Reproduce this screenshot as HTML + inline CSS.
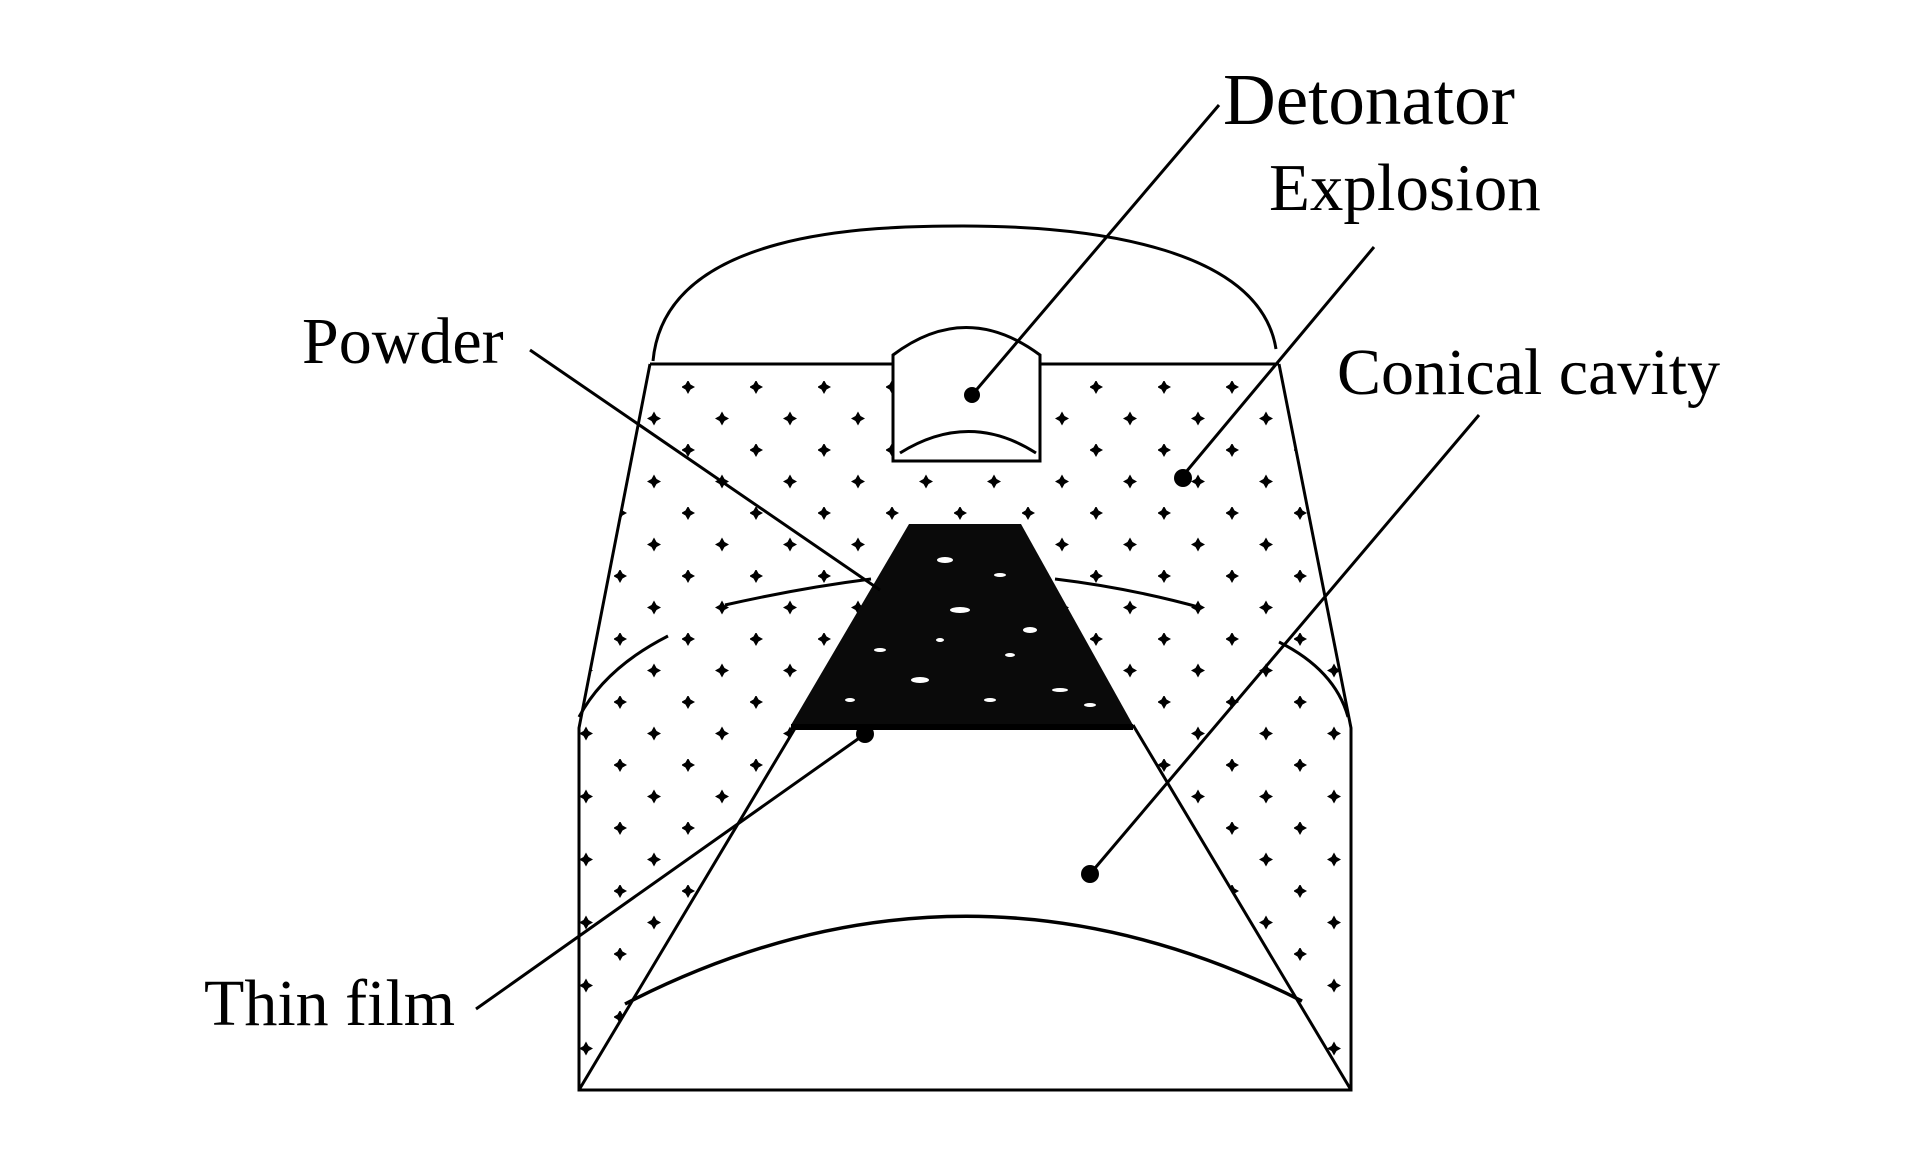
<!DOCTYPE html>
<html><head><meta charset="utf-8"><style>
html,body{margin:0;padding:0;background:#fff;}
svg{display:block;}
text{font-family:"Liberation Serif",serif;fill:#000;}
</style></head><body>
<svg width="1923" height="1169" viewBox="0 0 1923 1169" xmlns="http://www.w3.org/2000/svg">
<defs>
<pattern id="dots" patternUnits="userSpaceOnUse" x="682" y="381" width="68" height="63">
<path d="M6 -1 L8.5 3.5 L13 6 L8.5 8.5 L6 13 L3.5 8.5 L-1 6 L3.5 3.5Z" fill="#000"/>
<path d="M40 30.5 L42.5 35 L47 37.5 L42.5 40 L40 44.5 L37.5 40 L33 37.5 L37.5 35Z" fill="#000"/>
</pattern>
</defs>
<polygon points="650,364 1279,364 1351,728 1351,1090 579,1090 579,728" fill="url(#dots)"/>
<polygon points="797,725 1133,725 1351,1090 579,1090" fill="#fff"/>
<path d="M893,364 L893,355 Q966,300 1040,355 L1040,461 L893,461Z" fill="#fff"/>
<polygon points="909,524 1021,524 1133,725 791,725" fill="#0a0a0a"/>
<g fill="#fff">
<ellipse cx="945" cy="560" rx="8" ry="3"/><ellipse cx="1000" cy="575" rx="6" ry="2"/>
<ellipse cx="960" cy="610" rx="10" ry="3"/><ellipse cx="1030" cy="630" rx="7" ry="3"/>
<ellipse cx="880" cy="650" rx="6" ry="2"/><ellipse cx="920" cy="680" rx="9" ry="3"/>
<ellipse cx="1060" cy="690" rx="8" ry="2"/><ellipse cx="990" cy="700" rx="6" ry="2"/>
<ellipse cx="850" cy="700" rx="5" ry="2"/><ellipse cx="1090" cy="705" rx="6" ry="2"/>
<ellipse cx="1010" cy="655" rx="5" ry="2"/><ellipse cx="940" cy="640" rx="4" ry="2"/>
</g>
<g stroke="#000" stroke-width="3" fill="none">
<path d="M653,361 C665,230 870,226 963,226 C1100,226 1260,250 1276,349"/>
<line x1="650" y1="364" x2="893" y2="364"/>
<line x1="1040" y1="364" x2="1279" y2="364"/>
<polyline points="650,364 579,728 579,1090 1351,1090 1351,728 1279,364"/>
<path d="M893,461 L893,355 Q966,300 1040,355 L1040,461 Z"/>
<path d="M900,453 Q969,410 1036,453"/>
<line x1="797" y1="725" x2="579" y2="1090"/>
<line x1="1133" y1="725" x2="1351" y2="1090"/>
<line x1="791" y1="727" x2="1133" y2="727" stroke-width="6"/>
<path d="M625,1004 Q963,830 1302,1001" stroke-width="3.5"/>
<path d="M725,605 Q800,588 871,579"/>
<path d="M1055,579 Q1130,588 1202,608"/>
<path d="M668,636 Q605,668 579,717"/>
<path d="M1279,642 Q1335,670 1348,717"/>
<line x1="972" y1="395" x2="1219" y2="105"/>
<line x1="1181" y1="478" x2="1374" y2="247"/>
<line x1="1090" y1="874" x2="1479" y2="415"/>
<line x1="530" y1="350" x2="880" y2="590"/>
<line x1="865" y1="734" x2="476" y2="1009"/>
</g>
<g fill="#000">
<circle cx="972" cy="395" r="8"/>
<circle cx="1183" cy="478" r="9"/>
<circle cx="1090" cy="874" r="9"/>
<circle cx="865" cy="734" r="9"/>
</g>
<text x="1223" y="124" font-size="73">Detonator</text>
<text x="1269" y="210" font-size="67">Explosion</text>
<text x="302" y="363" font-size="66">Powder</text>
<text x="1337" y="394" font-size="66">Conical cavity</text>
<text x="204" y="1025" font-size="66">Thin film</text>
</svg>
</body></html>
